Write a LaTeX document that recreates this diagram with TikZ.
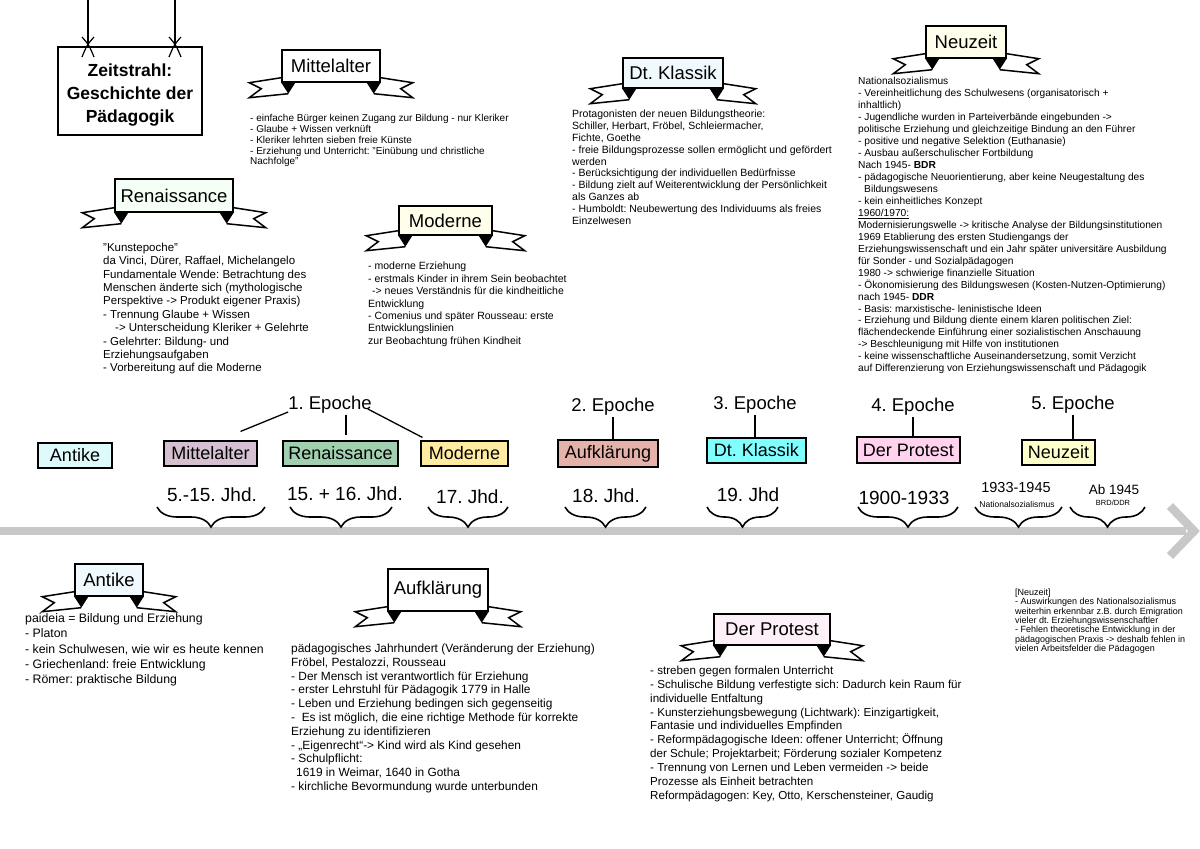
\documentclass[tikz,border=0pt]{standalone}
\usepackage{fontspec}
\setmainfont{Liberation Sans}
\usetikzlibrary{calc,decorations.pathreplacing}
\frenchspacing
\definecolor{cAnt}{RGB}{222,250,250}
\definecolor{cMit}{RGB}{212,192,208}
\definecolor{cRen}{RGB}{160,208,175}
\definecolor{cMod}{RGB}{255,236,160}
\definecolor{cAuf}{RGB}{228,178,168}
\definecolor{cKla}{RGB}{128,255,255}
\definecolor{cPro}{RGB}{255,210,238}
\definecolor{cNeu}{RGB}{255,255,204}
\definecolor{barGray}{RGB}{200,200,200}
\tikzset{
  tlbox/.style={draw=black, line width=1.1pt, inner sep=0pt, font=\fontsize{18}{20}\selectfont},
  bannerbox/.style={draw=black, line width=1.4pt, inner sep=0pt, font=\fontsize{18.5}{20}\selectfont},
  tailline/.style={line width=1.5pt, line join=miter},
  epoche/.style={inner sep=1pt, font=\fontsize{18.5}{20}\selectfont},
  jhd/.style={inner sep=1pt, font=\fontsize{19}{21}\selectfont},
  jbrace/.style={decorate, decoration={brace, mirror, amplitude=20pt}, line width=1.6pt},
  txt/.style={align=left, inner sep=0pt, anchor=north west},
  conn/.style={line width=1.3pt},
}
\newcommand{\bannertails}[1]{%
  \draw[tailline] ($(#1.south west)+(0,-5)$) -- ++(-32,5) -- ++(12,6) -- ++(-12,9) -- ($(#1.south west)+(7,11)$);
  \draw[tailline] ($(#1.south east)+(0,-5)$) -- ++(32,5) -- ++(-12,6) -- ++(12,9) -- ($(#1.south east)+(-7,11)$);
  \fill (#1.south west) -- ++(14,0) -- ++(-7,11) -- cycle;
  \fill (#1.south east) -- ++(-14,0) -- ++(7,11) -- cycle;
}
\begin{document}
\begin{tikzpicture}[x=1pt,y=-1pt]
\useasboundingbox[fill=white] (0,0) rectangle (1200,849);

% ---------- title sign ----------
\node[draw, line width=1.6pt, minimum width=144pt, minimum height=88pt, inner sep=0pt] (title) at (130,91) {};
\node[align=center, inner sep=0pt, font=\bfseries\fontsize{17.5}{23}\selectfont] (titletext) at (130,95) {Zeitstrahl:\\Geschichte der\\Pädagogik};
\coordinate (s1) at (88,0);
\coordinate (s2) at (175,0);
\draw[line width=1.3pt] (s1) -- (s1 |- title.north);
\draw[line width=1.3pt] (s2) -- (s2 |- title.north);
\draw[line width=1.2pt] (82,37) .. controls (89,45) .. (94,57);
\draw[line width=1.2pt] (94,37) .. controls (87,45) .. (82,57);
\draw[line width=1.2pt] (169,37) .. controls (176,45) .. (181,57);
\draw[line width=1.2pt] (181,37) .. controls (174,45) .. (169,57);

% ---------- banners ----------
\node[bannerbox, fill=white, minimum width=98pt, minimum height=32pt] (bMit) at (331,66) {Mittelalter};
\bannertails{bMit}
\node[bannerbox, fill=green!4, minimum width=118pt, minimum height=33pt] (bRen) at (174,195.5) {Renaissance};
\bannertails{bRen}
\node[bannerbox, fill=yellow!8, minimum width=93pt, minimum height=29pt] (bMod) at (445.5,220.5) {Moderne};
\bannertails{bMod}
\node[bannerbox, fill=cyan!6, minimum width=100pt, minimum height=30pt] (bKla) at (673,73) {Dt. Klassik};
\bannertails{bKla}
\node[bannerbox, fill=yellow!8, minimum width=80pt, minimum height=32pt] (bNeu) at (966,42) {Neuzeit};
\bannertails{bNeu}
\node[bannerbox, fill=cyan!6, minimum width=68pt, minimum height=32pt] (bAnt) at (109,580) {Antike};
\bannertails{bAnt}
\node[bannerbox, fill=white, minimum width=100pt, minimum height=42pt] (bAuf) at (438,590) {Aufklärung};
\bannertails{bAuf}
\node[bannerbox, fill=magenta!6, minimum width=116pt, minimum height=31pt] (bPro) at (772,629.5) {Der Protest};
\bannertails{bPro}

% ---------- text blocks ----------
\node[txt, font=\fontsize{10}{10.8}\selectfont] (xMit) at (250,114.3) {%
- einfache Bürger keinen Zugang zur Bildung - nur Kleriker\\
- Glaube + Wissen verknüft\\
- Kleriker lehrten sieben freie Künste\\
- Erziehung und Unterricht: "Einübung und christliche\\
Nachfolge"};

\node[txt, font=\fontsize{11.5}{13.4}\selectfont] (xRen) at (103,242.8) {%
"Kunstepoche"\\
da Vinci, Dürer, Raffael, Michelangelo\\
Fundamentale Wende: Betrachtung des\\
Menschen änderte sich (mythologische\\
Perspektive -> Produkt eigener Praxis)\\
- Trennung Glaube + Wissen\\
\hspace*{12pt}-> Unterscheidung Kleriker + Gelehrte\\
- Gelehrter: Bildung- und\\
Erziehungsaufgaben\\
- Vorbereitung auf die Moderne};

\node[txt, font=\fontsize{10.5}{12.4}\selectfont] (xMod) at (368,262) {%
- moderne Erziehung\\
- erstmals Kinder in ihrem Sein beobachtet\\
\hspace*{4pt}-> neues Verständnis für die kindheitliche\\
Entwicklung\\
- Comenius und später Rousseau: erste\\
Entwicklungslinien\\
zur Beobachtung frühen Kindheit};

\node[txt, font=\fontsize{10.5}{11.8}\selectfont] (xKla) at (572,110) {%
Protagonisten der neuen Bildungstheorie:\\
Schiller, Herbart, Fröbel, Schleiermacher,\\
Fichte, Goethe\\
- freie Bildungsprozesse sollen ermöglicht und gefördert\\
werden\\
- Berücksichtigung der individuellen Bedürfnisse\\
- Bildung zielt auf Weiterentwicklung der Persönlichkeit\\
als Ganzes ab\\
- Humboldt: Neubewertung des Individuums als freies\\
Einzelwesen};

\node[txt, font=\fontsize{10.2}{11.96}\selectfont] (xNeu) at (858,77.2) {%
Nationalsozialismus\\
- Vereinheitlichung des Schulwesens (organisatorisch +\\
inhaltlich)\\
- Jugendliche wurden in Parteiverbände eingebunden ->\\
politische Erziehung und gleichzeitige Bindung an den Führer\\
- positive und negative Selektion (Euthanasie)\\
- Ausbau außerschulischer Fortbildung\\
Nach 1945- \textbf{BDR}\\
- pädagogische Neuorientierung, aber keine Neugestaltung des\\
\hspace*{6pt}Bildungswesens\\
- kein einheitliches Konzept\\
\underline{1960/1970:}\\
Modernisierungswelle -> kritische Analyse der Bildungsinstitutionen\\
1969 Etablierung des ersten Studiengangs der\\
Erziehungswissenschaft und ein Jahr später universitäre Ausbildung\\
für Sonder - und Sozialpädagogen\\
1980 -> schwierige finanzielle Situation\\
- Ökonomisierung des Bildungswesen (Kosten-Nutzen-Optimierung)\\
nach 1945- \textbf{DDR}\\
- Basis: marxistische- leninistische Ideen\\
- Erziehung und Bildung diente einem klaren politischen Ziel:\\
flächendeckende Einführung einer sozialistischen Anschauung\\
-> Beschleunigung mit Hilfe von institutionen\\
- keine wissenschaftliche Auseinandersetzung, somit Verzicht\\
auf Differenzierung von Erziehungswissenschaft und Pädagogik};

\node[txt, font=\fontsize{12.3}{15.2}\selectfont] (xAnt) at (25,613.5) {%
paideia = Bildung und Erziehung\\
- Platon\\
- kein Schulwesen, wie wir es heute kennen\\
- Griechenland: freie Entwicklung\\
- Römer: praktische Bildung};

\node[txt, font=\fontsize{11.9}{13.8}\selectfont] (xAuf) at (291,643.6) {%
pädagogisches Jahrhundert (Veränderung der Erziehung)\\
Fröbel, Pestalozzi, Rousseau\\
- Der Mensch ist verantwortlich für Erziehung\\
- erster Lehrstuhl für Pädagogik 1779 in Halle\\
- Leben und Erziehung bedingen sich gegenseitig\\
-\ \ Es ist möglich, die eine richtige Methode für korrekte\\
Erziehung zu identifizieren\\
- „Eigenrecht“-> Kind wird als Kind gesehen\\
- Schulpflicht:\\
\hspace*{5pt}1619 in Weimar, 1640 in Gotha\\
- kirchliche Bevormundung wurde unterbunden};

\node[txt, font=\fontsize{11.6}{13.9}\selectfont] (xPro) at (650,665.7) {%
- streben gegen formalen Unterricht\\
- Schulische Bildung verfestigte sich: Dadurch kein Raum für\\
individuelle Entfaltung\\
- Kunsterziehungsbewegung (Lichtwark): Einzigartigkeit,\\
Fantasie und individuelles Empfinden\\
- Reformpädagogische Ideen: offener Unterricht; Öffnung\\
der Schule; Projektarbeit; Förderung sozialer Kompetenz\\
- Trennung von Lernen und Leben vermeiden -> beide\\
Prozesse als Einheit betrachten\\
Reformpädagogen: Key, Otto, Kerschensteiner, Gaudig};

\node[txt, font=\fontsize{9}{9.33}\selectfont] (xNeu2) at (1015,588.7) {%
[Neuzeit]\\
- Auswirkungen des Nationalsozialismus\\
weiterhin erkennbar z.B. durch Emigration\\
vieler dt. Erziehungswissenschaftler\\
- Fehlen theoretische Entwicklung in der\\
pädagogischen Praxis -> deshalb fehlen in\\
vielen Arbeitsfelder die Pädagogen};

% ---------- timeline bar ----------
\coordinate (barL) at (0,531);
\coordinate (barR) at (1186,531);
\draw[line width=8.5pt, barGray] (barL) -- (barR);
\coordinate (chA) at (1170,506);
\coordinate (chB) at (1194,531);
\coordinate (chC) at (1170,556);
\draw[line width=8.5pt, barGray] (chA) -- (chB) -- (chC);

% ---------- timeline boxes ----------
\node[tlbox, fill=cAnt, minimum width=74pt, minimum height=25pt] (tAnt) at (75,455.5) {Antike};
\node[tlbox, fill=cMit, minimum width=93pt, minimum height=25pt] (tMit) at (210.5,453.5) {Mittelalter};
\node[tlbox, fill=cRen, minimum width=115pt, minimum height=25pt] (tRen) at (340.5,453.5) {Renaissance};
\node[tlbox, fill=cMod, minimum width=87pt, minimum height=25pt] (tMod) at (464.5,453.5) {Moderne};
\node[tlbox, fill=cAuf, minimum width=100pt, minimum height=27pt] (tAuf) at (608,453.5) {Aufklärung};
\node[tlbox, fill=cKla, minimum width=99pt, minimum height=25pt] (tKla) at (756.5,450.5) {Dt. Klassik};
\node[tlbox, fill=cPro, minimum width=103pt, minimum height=26pt] (tPro) at (908.5,450) {Der Protest};
\node[tlbox, fill=cNeu, minimum width=73pt, minimum height=25pt] (tNeu) at (1058.5,452.5) {Neuzeit};

% ---------- epochs ----------
\node[epoche] (e1) at (330,405) {1. Epoche};
\node[epoche] (e2) at (613,407) {2. Epoche};
\node[epoche] (e3) at (755,405) {3. Epoche};
\node[epoche] (e4) at (913,407) {4. Epoche};
\node[epoche] (e5) at (1073,405) {5. Epoche};
\draw[conn] ($(e1.west)+(1,7)$) -- ($(tMit.north)+(30,-9)$);
\draw[conn] ($(e1.south)+(16,0)$) -- ($(tRen.north)+(5.5,-5)$);
\draw[conn] ($(e1.east)+(-5,4)$) -- ($(tMod.north west)+(2,-3)$);
\draw[conn] (e2.south) -- (e2.south |- tAuf.north);
\draw[conn] (e3.south) -- (e3.south |- tKla.north);
\draw[conn] (e4.south) -- (e4.south |- tPro.north);
\draw[conn] (e5.south) -- (e5.south |- tNeu.north);

% ---------- centuries ----------
\node[jhd] (j1) at (212,495) {5.-15. Jhd.};
\node[jhd] (j2) at (345,494) {15. + 16. Jhd.};
\node[jhd] (j3) at (470,497) {17. Jhd.};
\node[jhd] (j4) at (606,496) {18. Jhd.};
\node[jhd] (j5) at (748,495) {19. Jhd};
\node[jhd] (j6) at (904,498) {1900-1933};
\node[inner sep=1pt, font=\fontsize{14.5}{16}\selectfont] (j7) at (1016,488) {1933-1945};
\node[inner sep=1pt, font=\fontsize{8.5}{9}\selectfont] (j7b) at (1017,504) {Nationalsozialismus};
\node[inner sep=1pt, font=\fontsize{13.5}{15}\selectfont] (j8) at (1114,490) {Ab 1945};
\node[inner sep=1pt, font=\fontsize{7.5}{8}\selectfont] (j8b) at (1113,503) {BRD/DDR};

\draw[jbrace] (157,507) -- (265,507);
\draw[jbrace] (290,507) -- (392,507);
\draw[jbrace] (428,507) -- (508,507);
\draw[jbrace] (565,507) -- (646,507);
\draw[jbrace] (707,507) -- (778,507);
\draw[jbrace] (858,507) -- (958,507);
\draw[jbrace] (975,507) -- (1062,507);
\draw[jbrace] (1070,507) -- (1145,507);
\end{tikzpicture}
\end{document}
